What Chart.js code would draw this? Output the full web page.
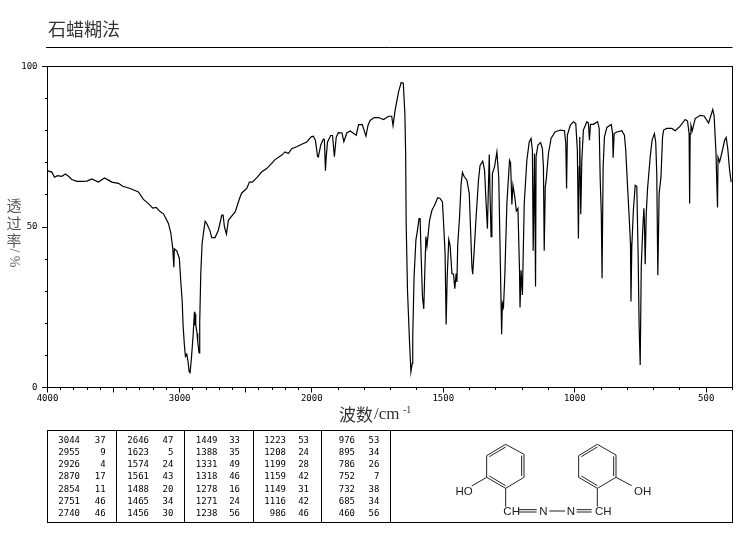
<!DOCTYPE html>
<html><head><meta charset="utf-8">
<style>html,body{margin:0;padding:0;background:#fff}#w{position:relative;width:737px;height:539px}canvas{display:block}</style>
<script src="https://cdn.jsdelivr.net/npm/chart.js@4"></script></head>
<body><div id="w"><canvas id="c" width="737" height="539"></canvas></div>
<script>
const titleText = "石蜡糊法";
const yTitleChars = ["透","过","率"];
const xTickLabels = [4000,3000,2000,1500,1000,500];
const yTickLabels = [100,50,0];
const wavenumbers = [3997,3967,3947,3924,3892,3864,3841,3816,3778,3740,3702,3665,3614,3569,3538,3513,3463,3430,3375,3312,3274,3236,3203,3178,3148,3122,3097,3085,3067,3052,3044,3040,3022,3002,2992,2981,2974,2964,2956,2946,2936,2928,2921,2911,2898,2888,2885,2882,2878,2868,2863,2853,2848,2840,2830,2820,2807,2795,2770,2757,2732,2707,2681,2671,2661,2646,2631,2606,2580,2542,2530,2492,2472,2449,2416,2378,2341,2303,2278,2227,2202,2177,2152,2114,2076,2038,2005,1994,1986,1978,1975,1966,1956,1952,1948,1945,1940,1928,1921,1914,1907,1899,1885,1878,1867,1854,1831,1822,1808,1794,1786,1778,1763,1746,1727,1708,1696,1691,1683,1670,1660,1652,1646,1643,1641,1636,1628,1623,1618,1616,1611,1604,1598,1592,1588,1584,1579,1574,1570,1566,1562,1557,1552,1543,1533,1521,1512,1503,1498,1493,1489,1485,1479,1474,1467,1461,1456,1451,1448,1445,1438,1432,1427,1421,1410,1401,1396,1391,1388,1383,1375,1366,1360,1350,1343,1337,1332,1329,1325,1322,1318,1315,1313,1305,1296,1289,1284,1278,1275,1271,1266,1258,1248,1244,1239,1235,1228,1222,1216,1210,1208,1204,1199,1192,1182,1173,1166,1161,1158,1153,1149,1147,1140,1130,1123,1119,1116,1112,1108,1100,1090,1075,1055,1039,1034,1031,1028,1017,1005,996,990,986,983,981,977,973,967,954,948,944,940,929,913,907,903,899,896,892,887,878,861,856,854,850,840,821,811,806,799,793,788,786,783,777,770,764,759,755,751,747,742,737,735,732,728,723,713,706,697,692,688,684,679,672,666,662,650,631,618,599,580,571,565,563,561,558,553,542,523,508,491,475,470,463,457,455,449,441,430,424,418,411,405];
const transmittance = [67.5,67.1,65.5,66.0,65.8,66.5,65.8,64.8,64.2,64.2,64.3,65.0,64.0,65.3,64.6,64.0,63.6,62.7,62.0,60.9,58.6,57.3,55.9,56.1,54.8,54.1,52.1,51.1,48.2,43.3,37.5,43.2,42.6,40.2,33.4,27.2,19.4,13.2,9.7,10.4,8.0,4.9,4.6,9.0,16.3,23.6,19.4,23.0,19.5,16.8,14.2,10.8,20.4,35.5,44.8,48.0,51.8,51.1,48.8,46.7,46.7,49.0,53.7,53.7,50.0,47.8,52.1,53.4,54.7,59.4,60.6,62.0,64.0,64.0,65.4,67.2,68.2,69.8,71.0,72.4,73.4,72.9,74.4,75.0,75.8,76.5,78.1,78.3,77.0,72.0,71.8,75.5,77.4,77.2,67.5,72.0,76.5,78.5,78.5,71.9,78.0,79.4,79.3,76.6,79.3,79.9,78.6,81.9,81.9,78.3,81.7,83.2,84.1,84.1,83.5,84.5,84.5,81.6,86.4,92.1,95.0,94.8,85.4,73.0,51.0,30.3,13.7,4.9,7.5,15.8,34.5,45.9,49.0,52.6,52.6,40.7,28.2,24.5,36.5,47.0,44.0,48.0,52.1,55.2,56.8,59.1,58.9,57.8,50.0,41.7,19.6,34.5,46.1,44.3,35.5,35.3,30.8,35.5,32.9,44.3,53.2,63.5,67.0,65.8,64.6,60.4,49.0,37.6,35.3,41.7,53.2,64.6,69.2,70.5,67.7,57.3,49.5,60.0,72.6,60.0,47.0,55.0,66.7,68.7,73.4,65.6,43.8,16.6,26.2,25.0,34.5,57.3,70.8,70.0,57.0,63.0,59.4,55.0,55.8,36.5,24.9,36.5,28.8,57.3,70.8,76.5,77.6,73.9,42.6,72.9,31.5,71.9,75.5,76.3,74.4,68.7,42.6,62.5,65.0,72.9,77.6,79.6,80.2,80.0,76.0,62.0,78.6,81.7,82.8,82.2,73.9,46.4,68.7,78.0,54.0,70.8,80.2,82.8,82.4,77.0,82.0,82.0,82.8,80.7,64.6,54.2,34.0,68.7,78.0,81.0,81.9,79.1,71.6,79.1,79.6,80.0,78.6,73.9,62.5,53.2,44.9,26.8,43.8,55.2,63.0,62.7,41.7,18.9,7.0,37.6,48.0,55.8,52.0,38.4,54.2,62.0,71.8,77.0,79.1,76.5,66.7,35.0,60.4,65.6,78.0,80.2,80.7,80.7,80.0,81.4,83.5,83.0,79.1,57.3,79.0,81.7,80.0,83.8,84.8,84.6,82.4,86.6,84.8,73.4,56.1,71.8,70.3,72.9,77.0,77.9,74.4,67.7,64.0];
const peakWave = [3044,2955,2926,2870,2854,2751,2740,2646,1623,1574,1561,1488,1465,1456,1449,1388,1331,1318,1278,1271,1238,1223,1208,1199,1159,1149,1116,986,976,895,786,752,732,685,460];
const peakT = [37,9,4,17,11,46,46,47,5,24,43,20,34,30,33,35,49,46,16,24,56,53,24,28,42,31,42,46,53,34,26,7,38,34,56];

// spectrum x axis: 4000-2000 is drawn at half the scale of 2000-400
class SpectrumScale extends Chart.LinearScale {
  static id = 'spectrum';
  static defaults = {};
  buildTicks(){
    const out=[];
    for(let v=this.max;v>=this.min;v-=100) out.push({value:v,major:v%500===0});
    return out;
  }
  getPixelForValue(v){
    const f=0.3858;
    const d=v>=2000?(4000-v)/2000*f:f+(2000-v)/1600*(1-f);
    return this.left+d*this.width;
  }
  getValueForPixel(p){
    const f=0.3858,d=(p-this.left)/this.width;
    return d<=f?4000-d/f*2000:2000-(d-f)/(1-f)*1600;
  }
}
Chart.register(SpectrumScale);

const TICKFONT="9px 'DejaVu Sans Mono'";
function line(ctx,x1,y1,x2,y2){ctx.beginPath();ctx.moveTo(x1,y1);ctx.lineTo(x2,y2);ctx.stroke();}

const furniture={id:'furniture',afterDraw(chart){
  const ctx=chart.ctx,a=chart.chartArea,xs=chart.scales.x,ys=chart.scales.y;
  ctx.save();
  ctx.strokeStyle='#000';ctx.lineWidth=1;ctx.fillStyle='#000';
  // plot frame
  ctx.strokeRect(47.5,66.5,685,321);
  // tick marks from the scales
  xs.ticks.forEach(t=>{const p=Math.round(xs.getPixelForValue(t.value)-0.5)+0.5;line(ctx,p,387.5,p,387.5+(t.major?5:2.5));});
  ys.ticks.forEach(t=>{const p=Math.round(ys.getPixelForValue(t.value)-0.5)+0.5;line(ctx,47.5,p,47.5-(t.value%50===0?5.5:2.5),p);});
  // title + rule
  ctx.fillStyle='#333';ctx.textBaseline='middle';ctx.textAlign='left';
  ctx.font="18px 'Noto Sans CJK SC'";
  ctx.fillText(titleText,48,29);
  ctx.strokeStyle='#000';line(ctx,46,47.5,732.5,47.5);
  // y title
  ctx.fillStyle='#555';ctx.textAlign='center';
  ctx.font="15px 'Noto Sans CJK SC'";
  yTitleChars.forEach((ch,i)=>ctx.fillText(ch,14,205.5+i*17.5));
  ctx.save();ctx.translate(14,258);ctx.rotate(Math.PI/2);ctx.font="14px 'Liberation Serif'";ctx.fillStyle='#666';ctx.fillText("/ %",0,0);ctx.restore();
  // x title
  ctx.fillStyle='#333';ctx.textAlign='left';
  ctx.font="17px 'Noto Sans CJK SC'";ctx.fillText("波数",339,415);
  ctx.font="17px 'Liberation Serif'";ctx.fillText("/cm",374,415);
  ctx.font="10px 'Liberation Serif'";ctx.fillText("-1",403,410);
  // peak table
  ctx.strokeStyle='#000';ctx.strokeRect(47.5,430.5,685,92);
  [116.5,184.5,253.5,321.5,390.5].forEach(x=>line(ctx,x,430.5,x,522.5));
  const numR=[80,149,217.5,286,355],valR=[105.7,173.3,240,309,379.3];
  ctx.fillStyle='#000';ctx.font=TICKFONT;ctx.textAlign='right';
  peakWave.forEach((w,i)=>{
    const col=Math.floor(i/7),row=i%7,y=440.5+row*12.2;
    ctx.fillText(String(w),numR[col],y);ctx.fillText(String(peakT[i]),valR[col],y);
  });
  // molecule
  const bx=z=>390+z/3,by=z=>425+z/3;
  const seg=(p,q,r,s)=>line(ctx,bx(p),by(q),bx(r),by(s));
  ctx.strokeStyle='#222';
  [[347,58,402,88],[402,88,402,157],[402,157,347,190],[347,190,290,157],[290,157,290,92],[290,92,347,58],
   [298,95,347,66],[395,92,395,153],[298,153,347,182],[290,157,245,183],[347,190,347,245],
   [385,254,440,254],[385,261,440,261],[478,258,525,258],[560,254,605,254],[560,261,605,261],
   [622,58,678,90],[678,90,678,157],[678,157,622,190],[622,190,566,157],[566,157,566,92],[566,92,622,58],
   [574,95,622,66],[671,94,671,153],[574,153,622,182],[678,157,725,182],[622,190,622,245]
  ].forEach(s=>seg(s[0],s[1],s[2],s[3]));
  ctx.fillStyle='#222';ctx.textAlign='center';ctx.font="11.5px 'Liberation Sans'";
  [["HO",222,201],["CH",365,259],["N",460,259],["N",543,259],["CH",640,259],["OH",758,201]].forEach(t=>ctx.fillText(t[0],bx(t[1]),by(t[2])));
  ctx.restore();
}};

new Chart(document.getElementById('c'),{
  type:'line',
  data:{datasets:[{data:wavenumbers.map((w,i)=>({x:w,y:transmittance[i]})),borderColor:'#000',borderWidth:1.2,pointRadius:0,tension:0,fill:false}]},
  plugins:[furniture],
  options:{
    responsive:false,animation:false,parsing:false,normalized:false,
    layout:{padding:{left:0,top:66.5,right:737-732.5,bottom:0}},
    plugins:{legend:{display:false},title:{display:false},tooltip:{enabled:false}},
    scales:{
      x:{type:'spectrum',min:400,max:4000,
        grid:{display:false,drawTicks:false},border:{display:false},
        afterFit(s){s.height=539-387.5;s.paddingLeft=0;s.paddingRight=0;},
        ticks:{autoSkip:false,maxRotation:0,minRotation:0,padding:6,color:'#000',font:{family:'DejaVu Sans Mono',size:9},
          callback:v=>xTickLabels.includes(v)?String(v):''}},
      y:{type:'linear',min:0,max:100,
        grid:{display:false,drawTicks:false},border:{display:false},
        afterFit(s){s.width=47.5;},
        ticks:{stepSize:10,padding:10,color:'#000',font:{family:'DejaVu Sans Mono',size:9},
          callback:v=>yTickLabels.includes(v)?String(v):''}}
    }
  }
});
</script></body></html>
